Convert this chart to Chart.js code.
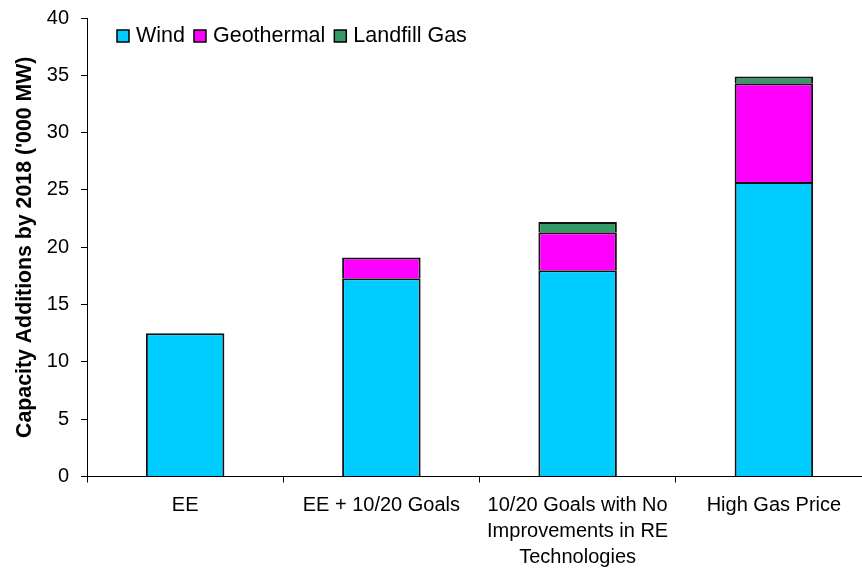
<!DOCTYPE html>
<html>
<head>
<meta charset="utf-8">
<script src="https://cdn.jsdelivr.net/npm/chart.js@4/dist/chart.umd.min.js"></script>
<style>
  html, body { margin: 0; padding: 0; background: #fff; overflow: hidden; }
  #c { display: block; }
</style>
</head>
<body>
<canvas id="c" width="872" height="569"></canvas>
<script>
// Scenarios along the x axis (multi-line labels as arrays)
const categories = [
  'EE',
  'EE + 10/20 Goals',
  ['10/20 Goals with No', 'Improvements in RE', 'Technologies'],
  'High Gas Price'
];
// Capacity additions by 2018, thousand MW
const windValues        = [12.5, 17.3, 18.0, 25.7];
const geothermalValues  = [null, 1.8, 3.3, 8.6];
const landfillGasValues = [null, null, 0.9, 0.6];
const seriesNames = ['Wind', 'Geothermal', 'Landfill Gas'];
const seriesColors = ['#00CCFF', '#FF00FF', '#339966'];
const yMin = 0, yMax = 40, yStep = 5;

const FONT = '"Liberation Sans", Arial, sans-serif';
const edge = { top: 2, left: 2, right: 2, bottom: 0 };

// Legend drawn inside the plot area, top-left
const insideLegend = {
  id: 'insideLegend',
  afterDraw(chart) {
    const ctx = chart.ctx;
    ctx.save();
    ctx.font = '21.5px ' + FONT;
    ctx.textBaseline = 'middle';
    let x = 117;
    const cy = 36;
    chart.data.datasets.forEach(ds => {
      ctx.fillStyle = ds.backgroundColor;
      ctx.fillRect(x, cy - 6, 12, 12);
      ctx.strokeStyle = '#000';
      ctx.lineWidth = 1.5;
      ctx.strokeRect(x, cy - 6, 12, 12);
      ctx.fillStyle = '#000';
      ctx.fillText(ds.label, x + 19, cy);
      x += 19 + ctx.measureText(ds.label).width + 9;
    });
    ctx.restore();
  }
};

new Chart(document.getElementById('c'), {
  type: 'bar',
  data: {
    labels: categories,
    datasets: [
      { label: seriesNames[0], data: windValues,        backgroundColor: seriesColors[0] },
      { label: seriesNames[1], data: geothermalValues,  backgroundColor: seriesColors[1] },
      { label: seriesNames[2], data: landfillGasValues, backgroundColor: seriesColors[2] }
    ].map(d => Object.assign(d, {
      borderColor: '#111',
      borderWidth: edge,
      borderSkipped: false,
      barPercentage: 0.4,
      categoryPercentage: 1.0
    }))
  },
  options: {
    responsive: false,
    animation: false,
    layout: { padding: { top: 18, left: 0, right: 0, bottom: 0 } },
    plugins: { legend: { display: false }, tooltip: { enabled: false } },
    scales: {
      x: {
        stacked: true,
        grid: { offset: true, drawOnChartArea: false, tickLength: 6, color: '#000', lineWidth: 1 },
        border: { color: '#000', width: 1 },
        ticks: { color: '#000', font: { family: FONT, size: 20, lineHeight: 1.3 }, padding: 10, maxRotation: 0, autoSkip: false },
        afterFit(scale) { scale.height = 92.5; }
      },
      y: {
        stacked: true,
        min: yMin, max: yMax,
        grid: { drawOnChartArea: false, tickLength: 6, color: '#000', lineWidth: 1 },
        border: { color: '#000', width: 1 },
        ticks: { stepSize: yStep, color: '#000', font: { family: FONT, size: 20, lineHeight: 0.5 }, padding: 12 },
        title: {
          display: true,
          text: "Capacity Additions by 2018 ('000 MW)",
          color: '#000',
          font: { family: FONT, size: 21.3, weight: 'bold', lineHeight: 1.2 },
          padding: { top: 12, bottom: 0 }
        },
        afterFit(scale) { scale.width = 87; }
      }
    }
  },
  plugins: [insideLegend]
});
</script>
</body>
</html>
